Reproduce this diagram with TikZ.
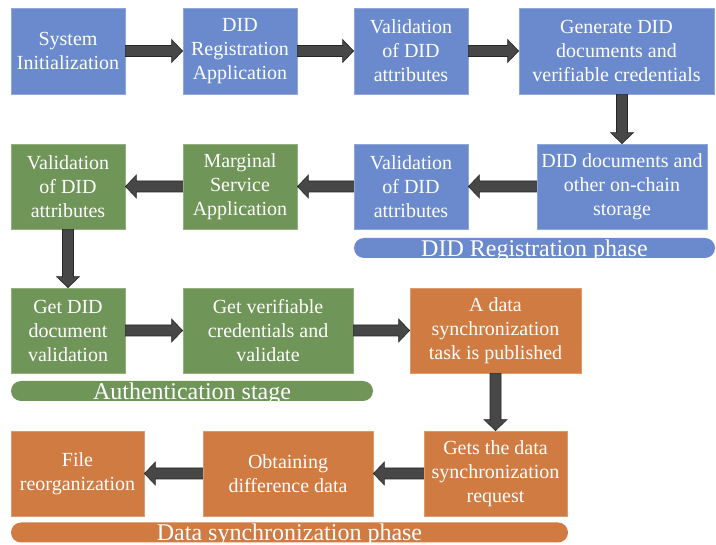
\documentclass[tikz,border=0pt]{standalone}
\usepackage{fontspec}
\setmainfont{Liberation Serif}
\usetikzlibrary{calc}

\definecolor{phaseblue}{HTML}{6A8ACD}
\definecolor{phasegreen}{HTML}{709558}
\definecolor{phaseorange}{HTML}{CF7B41}
\definecolor{arrowgray}{HTML}{474747}

\tikzset{
  stepbox/.style={rectangle, inner sep=0pt, align=center, text=white,
    font=\fontsize{20}{24}\selectfont, line width=0.8pt},
  bluebox/.style={stepbox, fill=phaseblue, draw=phaseblue!75!white},
  greenbox/.style={stepbox, fill=phasegreen, draw=phasegreen!75!white},
  orangebox/.style={stepbox, fill=phaseorange, draw=phaseorange!75!white},
  phasebar/.style={rectangle, rounded corners=10pt, inner sep=0pt, minimum height=20pt},
  phaselabel/.style={anchor=base, inner sep=0pt, text=white, font=\fontsize{24}{28}\selectfont},
  arrowbody/.style={fill=arrowgray, draw=black!85, line width=0.6pt, line join=miter},
}

% block arrow from anchor #1 to anchor #2 (shaft 11pt, head 23pt wide, 11pt long)
\newcommand\flowarrow[2]{%
  \coordinate (fa-s) at (#1);
  \coordinate (fa-t) at (#2);
  \coordinate (fa-h) at ($(fa-t)!11pt!(fa-s)$);
  \draw[arrowbody]
    ($(fa-s)!5.5pt!90:(fa-t)$) -- ($(fa-h)!5.5pt!90:(fa-t)$) --
    ($(fa-h)!11.5pt!90:(fa-t)$) -- (fa-t) --
    ($(fa-h)!11.5pt!-90:(fa-t)$) -- ($(fa-h)!5.5pt!-90:(fa-t)$) --
    ($(fa-s)!5.5pt!-90:(fa-t)$) -- cycle;
}

\begin{document}
\begin{tikzpicture}[x=1pt, y=-1pt]
  \useasboundingbox (0,0) rectangle (716,545);

  % registration row
  \node[bluebox, minimum width=114pt, minimum height=86pt] (sys)  at (68,51)    {System\\Initialization};
  \node[bluebox, minimum width=114pt, minimum height=86pt] (reg)  at (240,51)   {DID\\Registration\\Application};
  \node[bluebox, minimum width=114pt, minimum height=86pt] (val1) at (411,51)   {Validation\\of DID\\attributes};
  \node[bluebox, minimum width=195pt, minimum height=86pt] (gen)  at (616.5,51) {Generate DID\\documents and\\verifiable credentials};

  % second row
  \node[bluebox, minimum width=170pt, minimum height=85pt] (docs) at (622,186.5) {DID documents and\\other on-chain\\storage};
  \node[bluebox, minimum width=114pt, minimum height=85pt] (val2) at (411,186.5) {Validation\\of DID\\attributes};
  \node[greenbox, minimum width=114pt, minimum height=85pt] (marg) at (240,186.5) {Marginal\\Service\\Application};
  \node[greenbox, minimum width=114pt, minimum height=85pt] (val3) at (68,186.5)  {Validation\\of DID\\attributes};

  % third row
  \node[greenbox, minimum width=114pt, minimum height=85pt] (getdid) at (68,330.5)  {Get DID\\document\\validation};
  \node[greenbox, minimum width=170pt, minimum height=85pt] (getvc)  at (268,330.5) {Get verifiable\\credentials and\\validate};
  \node[orangebox, minimum width=171pt, minimum height=85pt] (adata) at (495.5,330.5) {A data\\synchronization\\task is published};

  % fourth row
  \node[orangebox, minimum width=143pt, minimum height=85pt] (gets)   at (495.5,473.5) {Gets the data\\synchronization\\request};
  \node[orangebox, minimum width=170pt, minimum height=85pt] (obtain) at (288,473.5)   {Obtaining\\difference data};
  \node[orangebox, minimum width=133pt, minimum height=85pt] (file)   at (77.5,473.5)  {File\\reorganization};

  % phase bars
  \node[phasebar, fill=phaseblue,   minimum width=361pt] (barreg)  at (534.5,248) {};
  \node[phaselabel] (lblreg) at (534.5,256.5) {DID Registration phase};
  \node[phasebar, fill=phasegreen,  minimum width=362pt] (barauth) at (192,391) {};
  \node[phaselabel] (lblauth) at (192,399.5) {Authentication stage};
  \node[phasebar, fill=phaseorange, minimum width=557pt] (barsync) at (289.5,532.5) {};
  \node[phaselabel] (lblsync) at (289.5,541) {Data synchronization phase};

  % flow
  \flowarrow{sys.east}{reg.west}
  \flowarrow{reg.east}{val1.west}
  \flowarrow{val1.east}{gen.west}
  \flowarrow{docs.north |- gen.south}{docs.north}
  \flowarrow{docs.west}{val2.east}
  \flowarrow{val2.west}{marg.east}
  \flowarrow{marg.west}{val3.east}
  \flowarrow{val3.south}{getdid.north}
  \flowarrow{getdid.east}{getvc.west}
  \flowarrow{getvc.east}{adata.west}
  \flowarrow{adata.south}{gets.north}
  \flowarrow{gets.west}{obtain.east}
  \flowarrow{obtain.west}{file.east}
\end{tikzpicture}
\end{document}
